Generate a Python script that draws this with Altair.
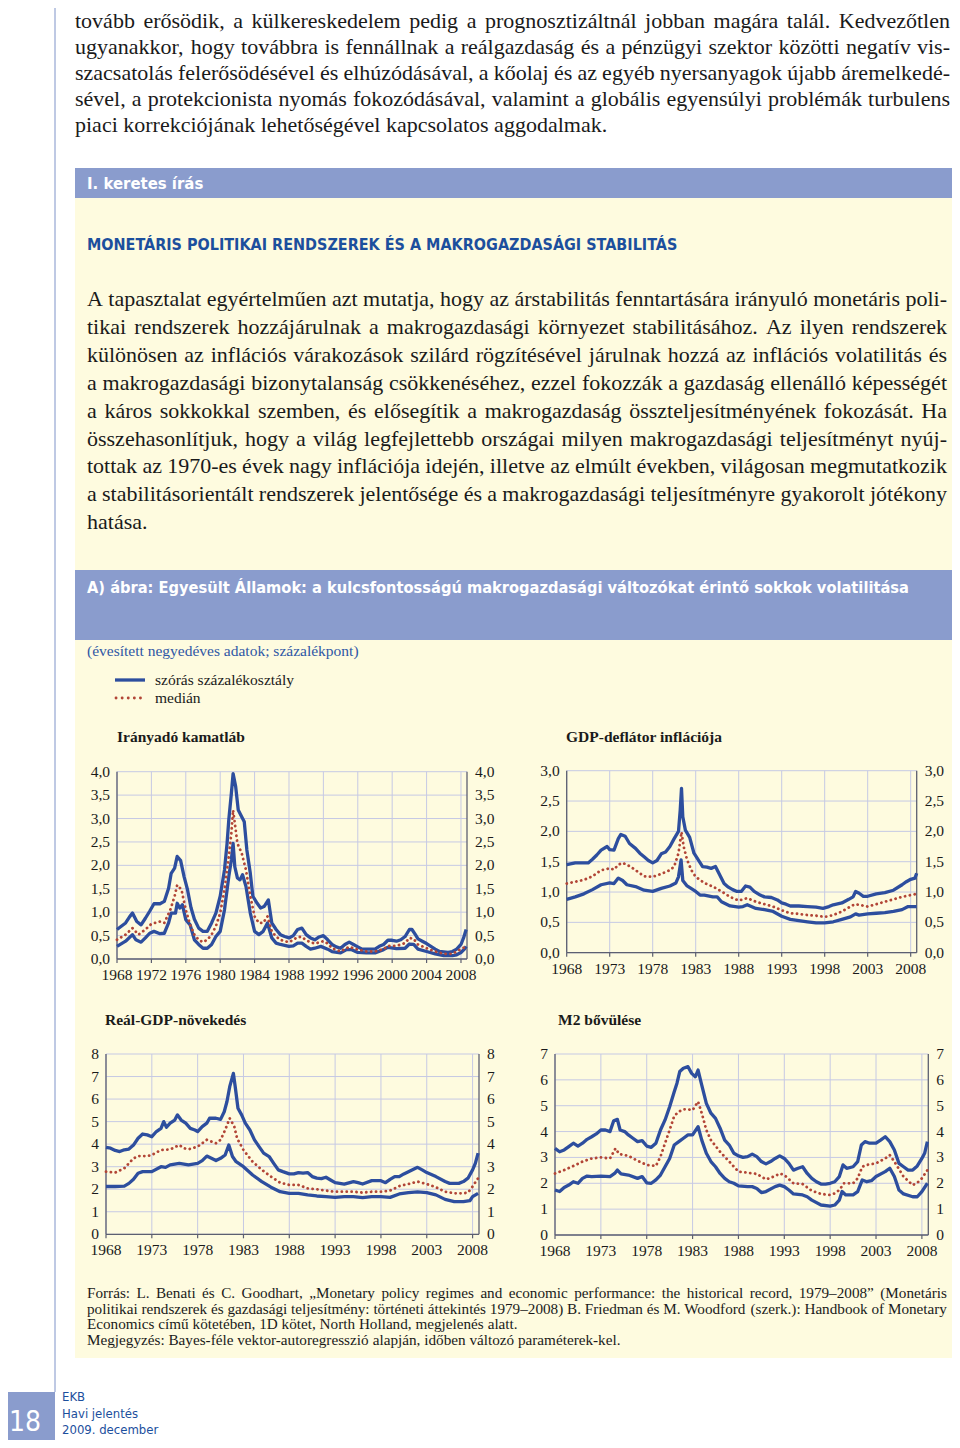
import unicodedata
import altair as alt
import pandas as pd

OFF = 8
W, H = 944, 1432


def cx(x):
    return x - OFF


def cy(y):
    return y - OFF


SERIF = "Liberation Serif, Times New Roman, serif"
NARROW = "Liberation Sans Narrow, DejaVu Sans Condensed, Roboto Condensed, Liberation Sans, sans-serif"
BAR = "#8A9CCD"
CREAM = "#FEFBDF"
HEAD = "#1C4F9D"
BLUE = "#2D4E9E"
RED = "#B24536"
GRID = "#C6C9E4"
AXIS = "#5C5F70"
INK = "#1A1A1A"

# ---------------- texts ----------------
TOP_LINES = [
    "tovább erősödik, a külkereskedelem pedig a prognosztizáltnál jobban magára talál. Kedvezőtlen",
    "ugyanakkor, hogy továbbra is fennállnak a reálgazdaság és a pénzügyi szektor közötti negatív vis-",
    "szacsatolás felerősödésével és elhúzódásával, a kőolaj és az egyéb nyersanyagok újabb áremelkedé-",
    "sével, a protekcionista nyomás fokozódásával, valamint a globális egyensúlyi problémák turbulens",
    "piaci korrekciójának lehetőségével kapcsolatos aggodalmak.",
]
BOX_TAG = "I. keretes írás"
BOX_TITLE = "MONETÁRIS POLITIKAI RENDSZEREK ÉS A MAKROGAZDASÁGI STABILITÁS"
BOX_LINES = [
    "A tapasztalat egyértelműen azt mutatja, hogy az árstabilitás fenntartására irányuló monetáris poli-",
    "tikai rendszerek hozzájárulnak a makrogazdasági környezet stabilitásához. Az ilyen rendszerek",
    "különösen az inflációs várakozások szilárd rögzítésével járulnak hozzá az inflációs volatilitás és",
    "a makrogazdasági bizonytalanság csökkenéséhez, ezzel fokozzák a gazdaság ellenálló képességét",
    "a káros sokkokkal szemben, és elősegítik a makrogazdaság összteljesítményének fokozását. Ha",
    "összehasonlítjuk, hogy a világ legfejlettebb országai milyen makrogazdasági teljesítményt nyúj-",
    "tottak az 1970-es évek nagy inflációja idején, illetve az elmúlt években, világosan megmutatkozik",
    "a stabilitásorientált rendszerek jelentősége és a makrogazdasági teljesítményre gyakorolt jótékony",
    "hatása.",
]
FIG_TITLE = "A) ábra: Egyesült Államok: a kulcsfontosságú makrogazdasági változókat érintő sokkok volatilitása"
SUBTITLE = ["(évesített negyedéves adatok; százalékpont)"]
LEGEND = ["szórás százalékosztály", "medián"]
TITLES = ["Irányadó kamatláb", "GDP-deflátor inflációja", "Reál-GDP-növekedés", "M2 bővülése"]
SRC_LINES = [
    "Forrás: L. Benati és C. Goodhart, „Monetary policy regimes and economic performance: the historical record, 1979–2008” (Monetáris",
    "politikai rendszerek és gazdasági teljesítmény: történeti áttekintés 1979–2008) B. Friedman és M. Woodford (szerk.): Handbook of Monetary",
    "Economics című kötetében, 1D kötet, North Holland, megjelenés alatt.",
    "Megjegyzés: Bayes-féle vektor-autoregresszió alapján, időben változó paraméterek-kel.",
]
FOOT_NUM = ["18"]
FOOT_LINES = ["EKB", "Havi jelentés", "2009. december"]

# ---------------- panel data (year, value) ----------------
P1_UP = [(1968.0,0.63),(1969.0,0.77),(1969.5,0.91),(1969.8,0.98),(1970.3,0.80),(1970.8,0.73),(1971.3,0.87),(1971.8,1.02),(1972.3,1.18),(1973.0,1.18),(1973.5,1.23),(1974.0,1.51),(1974.3,1.83),(1974.7,1.94),(1975.0,2.19),(1975.4,2.10),(1975.8,1.76),(1976.2,1.48),(1976.6,1.10),(1977.0,0.85),(1977.5,0.66),(1978.0,0.59),(1978.5,0.59),(1979.0,0.77),(1979.5,0.98),(1980.0,1.34),(1980.5,1.90),(1980.8,2.47),(1981.0,2.97),(1981.3,3.54),(1981.5,3.96),(1981.8,3.68),(1982.1,3.18),(1982.5,3.04),(1982.8,2.93),(1983.1,2.33),(1983.5,1.83),(1983.8,1.34),(1984.3,1.19),(1984.7,1.09),(1985.1,1.12),(1985.6,1.26),(1986.0,0.77),(1986.5,0.63),(1987.0,0.52),(1987.5,0.48),(1988.0,0.45),(1988.5,0.50),(1989.0,0.63),(1989.5,0.66),(1990.0,0.52),(1990.5,0.45),(1991.0,0.41),(1991.5,0.47),(1992.0,0.50),(1992.5,0.41),(1993.0,0.31),(1993.5,0.26),(1994.0,0.23),(1994.5,0.31),(1995.0,0.36),(1995.5,0.31),(1996.0,0.26),(1996.5,0.21),(1997.0,0.21),(1997.5,0.21),(1998.0,0.21),(1998.5,0.27),(1999.0,0.31),(1999.5,0.40),(2000.0,0.40),(2000.5,0.38),(2001.0,0.41),(2001.5,0.48),(2002.0,0.63),(2002.3,0.63),(2002.7,0.52),(2003.0,0.43),(2003.5,0.38),(2004.0,0.33),(2004.5,0.27),(2005.0,0.21),(2005.5,0.16),(2006.0,0.15),(2006.5,0.14),(2007.0,0.16),(2007.5,0.21),(2008.0,0.31),(2008.3,0.45),(2008.6,0.63)]
P1_MED = [(1968.0,0.41),(1969.0,0.52),(1969.8,0.66),(1970.5,0.52),(1971.3,0.63),(1972.0,0.75),(1973.0,0.80),(1973.5,0.77),(1974.2,1.05),(1974.7,1.34),(1975.0,1.58),(1975.5,1.48),(1976.0,1.05),(1976.5,0.73),(1977.0,0.52),(1977.5,0.41),(1978.0,0.36),(1978.5,0.41),(1979.0,0.52),(1979.5,0.70),(1980.0,0.98),(1980.5,1.48),(1981.0,2.19),(1981.3,2.69),(1981.5,3.18),(1981.8,2.76),(1982.0,2.47),(1982.5,2.26),(1983.0,1.90),(1983.5,1.34),(1984.0,0.91),(1984.5,0.77),(1985.0,0.77),(1985.5,0.91),(1986.0,0.59),(1986.5,0.48),(1987.0,0.41),(1987.5,0.38),(1988.0,0.36),(1988.5,0.41),(1989.0,0.47),(1989.5,0.47),(1990.0,0.40),(1990.5,0.36),(1991.0,0.33),(1992.0,0.38),(1992.5,0.33),(1993.0,0.23),(1994.0,0.16),(1995.0,0.26),(1996.0,0.20),(1997.0,0.16),(1998.0,0.16),(1999.0,0.21),(1999.5,0.28),(2000.5,0.28),(2001.5,0.34),(2002.0,0.45),(2002.5,0.43),(2003.0,0.31),(2004.0,0.23),(2005.0,0.16),(2006.0,0.11),(2007.0,0.11),(2007.5,0.16),(2008.0,0.21),(2008.6,0.27)]
P1_LO = [(1968.0,0.27),(1969.0,0.38),(1969.8,0.52),(1970.2,0.41),(1970.8,0.36),(1971.3,0.45),(1971.8,0.55),(1972.3,0.59),(1973.0,0.54),(1973.5,0.55),(1974.0,0.77),(1974.3,0.98),(1974.8,0.98),(1975.0,1.19),(1975.3,1.09),(1975.6,1.16),(1976.0,0.84),(1976.5,0.73),(1977.0,0.41),(1977.5,0.31),(1978.0,0.23),(1978.5,0.23),(1979.0,0.31),(1979.5,0.48),(1980.0,0.59),(1980.5,1.05),(1981.0,1.76),(1981.3,2.12),(1981.5,2.47),(1981.7,1.97),(1982.0,1.73),(1982.3,1.69),(1982.6,1.80),(1983.0,1.55),(1983.5,0.98),(1984.0,0.59),(1984.5,0.52),(1985.0,0.59),(1985.5,0.77),(1986.0,0.45),(1986.5,0.34),(1987.0,0.31),(1988.0,0.27),(1988.5,0.28),(1989.0,0.34),(1989.5,0.34),(1990.0,0.27),(1990.5,0.21),(1991.0,0.23),(1991.7,0.27),(1992.5,0.21),(1993.0,0.16),(1994.0,0.13),(1994.7,0.20),(1995.3,0.20),(1996.0,0.14),(1997.0,0.13),(1998.0,0.13),(1999.0,0.20),(1999.5,0.25),(2000.5,0.22),(2001.5,0.23),(2002.0,0.32),(2002.5,0.31),(2003.0,0.21),(2004.0,0.16),(2005.0,0.11),(2006.0,0.07),(2007.0,0.07),(2007.5,0.09),(2008.0,0.14),(2008.4,0.21),(2008.6,0.27)]

P2_UP = [(1968.0,1.45),(1969.0,1.48),(1970.0,1.48),(1970.5,1.48),(1971.0,1.54),(1971.5,1.61),(1972.0,1.69),(1972.7,1.75),(1973.0,1.70),(1973.5,1.69),(1974.0,1.88),(1974.3,1.95),(1974.8,1.92),(1975.3,1.80),(1976.0,1.72),(1976.5,1.64),(1977.0,1.58),(1977.5,1.52),(1978.0,1.48),(1978.5,1.52),(1979.0,1.63),(1979.5,1.66),(1980.0,1.75),(1980.5,1.88),(1981.0,2.00),(1981.2,2.35),(1981.35,2.71),(1981.5,2.24),(1981.8,2.02),(1982.3,1.90),(1982.8,1.64),(1983.3,1.53),(1983.8,1.42),(1984.3,1.41),(1984.8,1.39),(1985.3,1.42),(1985.8,1.28),(1986.3,1.14),(1986.8,1.08),(1987.3,1.04),(1987.8,1.01),(1988.3,1.01),(1988.8,1.10),(1989.3,1.08),(1989.8,1.01),(1990.5,0.95),(1991.0,0.92),(1991.8,0.91),(1992.5,0.87),(1993.0,0.82),(1993.5,0.80),(1994.0,0.77),(1995.0,0.77),(1996.0,0.76),(1997.0,0.75),(1997.8,0.73),(1998.5,0.76),(1999.0,0.79),(2000.0,0.82),(2000.8,0.88),(2001.3,0.92),(2001.6,1.01),(2002.0,0.98),(2002.5,0.93),(2003.0,0.93),(2004.0,0.97),(2005.0,0.99),(2006.0,1.03),(2007.0,1.12),(2007.5,1.17),(2008.0,1.21),(2008.5,1.23),(2008.7,1.31)]
P2_MED = [(1968.0,1.14),(1969.0,1.17),(1970.0,1.20),(1971.0,1.26),(1972.0,1.36),(1973.0,1.39),(1973.5,1.37),(1974.0,1.45),(1974.5,1.48),(1975.0,1.45),(1975.5,1.41),(1976.0,1.36),(1977.0,1.26),(1978.0,1.25),(1979.0,1.30),(1980.0,1.36),(1980.5,1.42),(1981.0,1.64),(1981.35,1.99),(1981.6,1.75),(1982.0,1.53),(1982.5,1.36),(1983.0,1.25),(1984.0,1.15),(1985.0,1.09),(1986.0,1.01),(1987.0,0.92),(1988.0,0.86),(1989.0,0.90),(1990.0,0.84),(1991.0,0.80),(1992.0,0.76),(1993.0,0.70),(1994.0,0.65),(1995.0,0.64),(1996.0,0.62),(1997.0,0.61),(1998.0,0.59),(1999.0,0.62),(2000.0,0.68),(2001.0,0.76),(2001.5,0.80),(2002.0,0.79),(2003.0,0.76),(2004.0,0.80),(2005.0,0.84),(2006.0,0.88),(2007.0,0.92),(2008.0,0.95),(2008.7,0.97)]
P2_LO = [(1968.0,0.88),(1969.0,0.92),(1970.0,0.97),(1971.0,1.04),(1972.0,1.12),(1973.0,1.15),(1973.5,1.14),(1974.0,1.23),(1974.5,1.19),(1975.0,1.12),(1976.0,1.09),(1977.0,1.03),(1978.0,1.01),(1979.0,1.06),(1980.0,1.10),(1980.7,1.15),(1981.0,1.25),(1981.3,1.53),(1981.5,1.19),(1982.0,1.10),(1983.0,1.01),(1983.5,0.95),(1984.0,0.95),(1985.0,0.92),(1985.5,0.92),(1986.0,0.84),(1987.0,0.77),(1988.0,0.75),(1988.5,0.76),(1989.0,0.79),(1990.0,0.73),(1991.0,0.71),(1992.0,0.68),(1993.0,0.60),(1994.0,0.55),(1995.0,0.53),(1996.0,0.51),(1997.0,0.49),(1998.0,0.49),(1999.0,0.51),(2000.0,0.55),(2001.0,0.59),(2001.6,0.64),(2002.0,0.62),(2003.0,0.64),(2004.0,0.65),(2005.0,0.66),(2006.0,0.68),(2007.0,0.71),(2007.7,0.76),(2008.7,0.76)]

P3_UP = [(1968.0,3.86),(1968.5,3.82),(1969.0,3.72),(1969.5,3.67),(1970.0,3.75),(1970.5,3.78),(1971.0,3.96),(1971.5,4.26),(1972.0,4.45),(1972.5,4.41),(1973.0,4.33),(1973.5,4.56),(1974.0,4.70),(1974.3,5.00),(1974.6,4.75),(1975.0,4.93),(1975.5,5.07),(1975.8,5.30),(1976.2,5.07),(1976.7,4.93),(1977.2,4.70),(1977.7,4.63),(1978.0,4.56),(1978.5,4.78),(1979.0,4.93),(1979.3,5.15),(1980.0,5.15),(1980.5,5.10),(1980.9,5.44),(1981.2,5.89),(1981.5,6.55),(1981.9,7.14),(1982.1,6.55),(1982.4,5.59),(1982.8,5.30),(1983.2,4.93),(1983.7,4.63),(1984.2,4.19),(1984.7,3.89),(1985.2,3.60),(1985.8,3.45),(1986.3,3.15),(1986.8,2.86),(1987.3,2.78),(1988.0,2.68),(1988.5,2.68),(1989.0,2.74),(1989.5,2.71),(1990.0,2.74),(1990.5,2.56),(1991.0,2.49),(1991.5,2.47),(1992.0,2.53),(1992.5,2.41),(1993.0,2.29),(1994.0,2.23),(1995.0,2.34),(1995.5,2.29),(1996.0,2.23),(1997.0,2.38),(1998.0,2.38),(1998.5,2.29),(1999.0,2.44),(1999.5,2.56),(2000.0,2.56),(2000.5,2.68),(2001.0,2.78),(2002.0,2.97),(2002.5,2.86),(2003.0,2.74),(2004.0,2.56),(2005.0,2.34),(2005.5,2.26),(2006.0,2.26),(2006.5,2.26),(2007.0,2.34),(2007.5,2.49),(2008.0,2.86),(2008.3,3.15),(2008.6,3.60)]
P3_MED = [(1968.0,2.78),(1969.0,2.74),(1970.0,2.93),(1971.0,3.37),(1971.5,3.47),(1972.5,3.47),(1973.0,3.52),(1974.0,3.74),(1975.0,3.77),(1976.0,3.96),(1976.5,3.82),(1977.0,3.77),(1978.0,3.89),(1979.0,4.19),(1980.0,4.04),(1980.5,4.19),(1981.0,4.63),(1981.5,5.15),(1982.0,4.78),(1982.3,4.26),(1983.0,3.74),(1984.0,3.22),(1985.0,2.86),(1986.0,2.56),(1987.0,2.29),(1988.0,2.19),(1989.0,2.19),(1990.0,2.04),(1991.0,2.00),(1992.0,1.94),(1993.0,1.89),(1994.0,1.89),(1995.0,1.89),(1996.0,1.85),(1997.0,1.89),(1998.0,1.89),(1999.0,1.94),(2000.0,2.14),(2001.0,2.23),(2002.0,2.34),(2003.0,2.23),(2004.0,2.09),(2005.0,1.89),(2006.0,1.82),(2007.0,1.82),(2007.5,1.85),(2008.0,2.12),(2008.6,2.49)]
P3_LO = [(1968.0,2.12),(1969.0,2.12),(1970.0,2.14),(1970.5,2.26),(1971.0,2.44),(1971.5,2.71),(1972.0,2.78),(1973.0,2.78),(1974.0,3.00),(1974.5,2.97),(1975.0,3.08),(1976.0,3.15),(1977.0,3.08),(1978.0,3.15),(1978.5,3.27),(1979.0,3.47),(1979.5,3.37),(1980.0,3.27),(1980.5,3.37),(1981.0,3.52),(1981.4,3.96),(1981.8,3.45),(1982.2,3.22),(1983.0,3.00),(1984.0,2.63),(1985.0,2.34),(1986.0,2.09),(1987.0,1.89),(1988.0,1.82),(1989.0,1.82),(1990.0,1.75),(1991.0,1.70),(1992.0,1.67),(1993.0,1.64),(1994.0,1.67),(1995.0,1.67),(1996.0,1.63),(1997.0,1.67),(1998.0,1.67),(1999.0,1.64),(2000.0,1.79),(2001.0,1.85),(2002.0,1.88),(2003.0,1.85),(2004.0,1.75),(2005.0,1.55),(2006.0,1.45),(2007.0,1.45),(2007.7,1.49),(2008.0,1.67),(2008.6,1.82)]

P4_UP = [(1968.0,3.35),(1968.5,3.22),(1969.0,3.29),(1969.5,3.42),(1970.0,3.55),(1970.5,3.44),(1971.0,3.55),(1971.5,3.70),(1972.0,3.80),(1972.5,3.91),(1973.0,4.06),(1973.5,4.06),(1974.0,4.00),(1974.4,4.42),(1974.8,4.47),(1975.1,4.06),(1975.6,4.00),(1976.0,3.87),(1976.5,3.74),(1977.0,3.61),(1977.5,3.65),(1978.0,3.44),(1978.5,3.39),(1979.0,3.55),(1979.5,4.06),(1980.0,4.45),(1980.5,4.96),(1981.0,5.54),(1981.3,5.87),(1981.6,6.32),(1982.0,6.45),(1982.5,6.51),(1982.9,6.25),(1983.3,6.12),(1983.6,6.38),(1984.0,5.80),(1984.5,5.09),(1985.0,4.71),(1985.5,4.51),(1986.0,4.13),(1986.5,3.67),(1987.0,3.48),(1987.5,3.16),(1988.0,3.06),(1988.5,3.00),(1989.0,3.03),(1989.5,3.13),(1990.0,3.03),(1990.5,2.84),(1991.0,2.75),(1991.5,2.84),(1992.0,2.96),(1992.5,3.06),(1993.0,2.96),(1993.5,2.77),(1994.0,2.51),(1994.5,2.58),(1995.0,2.64),(1995.5,2.38),(1996.0,2.19),(1996.5,2.06),(1997.0,1.97),(1997.5,1.97),(1998.0,2.00),(1998.5,2.06),(1999.0,2.26),(1999.4,2.71),(1999.8,2.58),(2000.5,2.64),(2001.0,2.84),(2001.4,3.48),(2001.8,3.61),(2002.3,3.55),(2003.0,3.55),(2003.5,3.67),(2004.0,3.80),(2004.5,3.61),(2005.0,3.29),(2005.5,2.77),(2006.0,2.64),(2006.5,2.51),(2007.0,2.51),(2007.5,2.67),(2008.0,2.96),(2008.3,3.16),(2008.6,3.61)]
P4_MED = [(1968.0,2.38),(1969.0,2.51),(1970.0,2.67),(1971.0,2.84),(1972.0,2.96),(1973.0,3.00),(1974.0,2.96),(1974.6,3.35),(1975.0,3.13),(1976.0,3.06),(1977.0,2.87),(1978.0,2.71),(1979.0,2.67),(1979.5,3.03),(1980.0,3.55),(1980.5,4.06),(1981.0,4.60),(1981.5,4.77),(1982.0,4.86),(1982.5,4.86),(1983.0,4.83),(1983.6,5.16),(1984.0,4.71),(1984.5,4.06),(1985.0,3.67),(1986.0,3.22),(1987.0,2.84),(1988.0,2.45),(1989.0,2.41),(1990.0,2.36),(1991.0,2.15),(1992.0,2.28),(1992.5,2.38),(1993.0,2.32),(1994.0,2.00),(1995.0,1.97),(1996.0,1.71),(1997.0,1.59),(1998.0,1.55),(1998.5,1.61),(1999.0,1.74),(1999.5,2.00),(2000.5,2.00),(2001.0,2.19),(2001.5,2.64),(2002.0,2.71),(2003.0,2.77),(2004.0,2.96),(2004.5,3.09),(2005.0,2.84),(2006.0,2.26),(2007.0,1.93),(2007.5,2.02),(2008.0,2.19),(2008.6,2.51)]
P4_LO = [(1968.0,1.74),(1968.5,1.68),(1969.0,1.84),(1969.5,1.93),(1970.0,2.06),(1970.5,2.00),(1971.0,2.19),(1971.5,2.28),(1972.0,2.26),(1973.0,2.28),(1974.0,2.26),(1974.5,2.38),(1974.8,2.51),(1975.2,2.36),(1976.0,2.32),(1977.0,2.19),(1977.5,2.26),(1978.0,2.02),(1978.5,2.00),(1979.0,2.13),(1979.5,2.32),(1980.0,2.64),(1980.5,2.96),(1981.0,3.48),(1981.5,3.61),(1982.0,3.74),(1982.5,3.87),(1983.0,3.87),(1983.6,4.19),(1984.0,3.67),(1984.5,3.16),(1985.0,2.84),(1985.5,2.64),(1986.0,2.38),(1986.5,2.19),(1987.0,2.06),(1987.5,2.00),(1988.0,1.90),(1989.0,1.87),(1989.5,1.87),(1990.0,1.80),(1990.5,1.64),(1991.0,1.68),(1992.0,1.87),(1992.5,1.93),(1993.0,1.87),(1993.5,1.74),(1994.0,1.59),(1995.0,1.55),(1995.5,1.48),(1996.0,1.35),(1997.0,1.16),(1998.0,1.12),(1998.5,1.16),(1999.0,1.35),(1999.3,1.68),(1999.7,1.55),(2000.5,1.55),(2001.0,1.68),(2001.5,2.13),(2002.0,2.06),(2002.5,2.10),(2003.0,2.26),(2004.0,2.45),(2004.5,2.58),(2005.0,2.26),(2005.5,1.74),(2006.0,1.59),(2007.0,1.48),(2007.5,1.48),(2008.0,1.68),(2008.6,2.00)]

P1_YT = [0, 0.5, 1, 1.5, 2, 2.5, 3, 3.5, 4]
P1_YL = ["0,0", "0,5", "1,0", "1,5", "2,0", "2,5", "3,0", "3,5", "4,0"]
P2_YT = [0, 0.5, 1, 1.5, 2, 2.5, 3]
P2_YL = ["0,0", "0,5", "1,0", "1,5", "2,0", "2,5", "3,0"]
P3_YT = [0, 1, 2, 3, 4, 5, 6, 7, 8]
P3_YL = ["0", "1", "2", "3", "4", "5", "6", "7", "8"]
P4_YT = [0, 1, 2, 3, 4, 5, 6, 7]
P4_YL = ["0", "1", "2", "3", "4", "5", "6", "7"]
X4 = [1968, 1972, 1976, 1980, 1984, 1988, 1992, 1996, 2000, 2004, 2008]
X5 = [1968, 1973, 1978, 1983, 1988, 1993, 1998, 2003, 2008]
XMIN, XMAX = 1968, 2008.7

# ---------------- Times metrics for justification ----------------
TW = {' ': 250, '!': 333, '(': 333, ')': 333, ',': 250, '-': 333, '.': 250, '/': 278,
      ':': 278, ';': 278, '–': 500, '„': 444, '”': 444,
      'A': 722, 'B': 667, 'C': 667, 'D': 722, 'E': 611, 'F': 556, 'G': 722, 'H': 722, 'I': 333,
      'J': 389, 'K': 722, 'L': 611, 'M': 889, 'N': 722, 'O': 722, 'P': 556, 'Q': 722, 'R': 667,
      'S': 556, 'T': 611, 'U': 722, 'V': 722, 'W': 944, 'X': 722, 'Y': 722, 'Z': 611,
      'a': 444, 'b': 500, 'c': 444, 'd': 500, 'e': 444, 'f': 333, 'g': 500, 'h': 500, 'i': 278,
      'j': 278, 'k': 500, 'l': 278, 'm': 778, 'n': 500, 'o': 500, 'p': 500, 'q': 500, 'r': 333,
      's': 389, 't': 278, 'u': 500, 'v': 500, 'w': 722, 'x': 500, 'y': 500, 'z': 444}
for _d in "0123456789":
    TW[_d] = 500


def tw(word):
    tot = 0
    for ch in word:
        b = unicodedata.normalize("NFD", ch)[0]
        tot += TW.get(b, 500)
    return tot / 1000.0


ONE = alt.Data(values=[{"k": 0}])


def rect(x1, x2, y1, y2, color):
    return alt.Chart(ONE).mark_rect(color=color).encode(
        x=alt.value(cx(x1)), x2=alt.value(cx(x2)), y=alt.value(cy(y1)), y2=alt.value(cy(y2)))


def prule(x1, x2, y1, y2, color, w, **kw):
    return alt.Chart(ONE).mark_rule(color=color, strokeWidth=w, **kw).encode(
        x=alt.value(cx(x1)), x2=alt.value(cx(x2)), y=alt.value(cy(y1)), y2=alt.value(cy(y2)))


def text_block(lines, x0, y0, dy, size, font, color, weight="normal", width=None, ragged=()):
    if width is None:
        df = pd.DataFrame({"t": lines, "line": list(range(len(lines)))})
        xenc = alt.value(cx(x0))
    else:
        rows = []
        target = width / size
        for i, line in enumerate(lines):
            words = line.split(" ")
            ws = [tw(w) for w in words]
            if i in ragged or len(words) < 2:
                gap = 0.25
            else:
                gap = max(0.08, (target - sum(ws)) / (len(words) - 1))
            pos = 0.0
            for w_, e in zip(words, ws):
                rows.append({"t": w_, "line": i, "pos": pos})
                pos += e + gap
        df = pd.DataFrame(rows)
        xenc = alt.X("pos:Q", scale=alt.Scale(domain=[0, 1], range=[cx(x0), cx(x0) + size],
                                              zero=False, nice=False), axis=None)
    yenc = alt.Y("line:Q", scale=alt.Scale(domain=[0, 1], range=[cy(y0), cy(y0) + dy],
                                           zero=False, nice=False), axis=None)
    return alt.Chart(df).mark_text(align="left", baseline="alphabetic", font=font, fontSize=size,
                                   color=color, fontWeight=weight).encode(x=xenc, y=yenc, text="t:N")


def panel(up, med, lo, left, right, top, bottom, ymax, yt, yl, xt):
    xs = alt.Scale(domain=[XMIN, XMAX], range=[cx(left), cx(right)], zero=False, nice=False)
    ys = alt.Scale(domain=[0, ymax], range=[cy(bottom), cy(top)], zero=False, nice=False)
    ydf = pd.DataFrame({"v": yt, "lab": yl})
    xdf = pd.DataFrame({"yr": xt, "lab": [str(t) for t in xt]})
    band = pd.DataFrame([{"yr": a, "val": b, "s": "felső"} for a, b in up] +
                        [{"yr": a, "val": b, "s": "alsó"} for a, b in lo])
    mdf = pd.DataFrame([{"yr": a, "val": b} for a, b in med])

    hgrid = alt.Chart(ydf).mark_rule(color=GRID, strokeWidth=1).encode(
        x=alt.X(datum=XMIN, scale=xs, axis=None), x2=alt.X2(datum=XMAX),
        y=alt.Y("v:Q", scale=ys, axis=None))
    vgrid = alt.Chart(xdf).mark_rule(color=GRID, strokeWidth=1).encode(
        x=alt.X("yr:Q", scale=xs, axis=None),
        y=alt.Y(datum=0, scale=ys, axis=None), y2=alt.Y2(datum=ymax))
    lax = alt.Chart(ONE).mark_rule(color=AXIS, strokeWidth=1.3).encode(
        x=alt.X(datum=XMIN, scale=xs, axis=None),
        y=alt.Y(datum=0, scale=ys, axis=None), y2=alt.Y2(datum=ymax))
    rax = alt.Chart(ONE).mark_rule(color=AXIS, strokeWidth=1.3).encode(
        x=alt.X(datum=XMAX, scale=xs, axis=None),
        y=alt.Y(datum=0, scale=ys, axis=None), y2=alt.Y2(datum=ymax))
    bax = alt.Chart(ONE).mark_rule(color=AXIS, strokeWidth=1.3).encode(
        x=alt.X(datum=XMIN, scale=xs, axis=None), x2=alt.X2(datum=XMAX),
        y=alt.Y(datum=0, scale=ys, axis=None))
    ticks = alt.Chart(xdf).mark_rule(color=AXIS, strokeWidth=1.2).encode(
        x=alt.X("yr:Q", scale=xs, axis=None),
        y=alt.Y(datum=0, scale=ys, axis=None), y2=alt.value(cy(bottom) + 4))
    bands = alt.Chart(band).mark_line(color=BLUE, strokeWidth=3.3, strokeJoin="round").encode(
        x=alt.X("yr:Q", scale=xs, axis=None), y=alt.Y("val:Q", scale=ys, axis=None),
        detail="s:N")
    mline = alt.Chart(mdf).mark_line(color=RED, strokeWidth=2.8, strokeDash=[0.1, 4.8],
                                     strokeCap="round").encode(
        x=alt.X("yr:Q", scale=xs, axis=None), y=alt.Y("val:Q", scale=ys, axis=None))
    tstyle = dict(font=SERIF, fontSize=15.5, color=INK, baseline="middle")
    llab = alt.Chart(ydf).mark_text(align="right", **tstyle).encode(
        x=alt.value(cx(left) - 7), y=alt.Y("v:Q", scale=ys, axis=None), text="lab:N")
    rlab = alt.Chart(ydf).mark_text(align="left", **tstyle).encode(
        x=alt.value(cx(right) + 8), y=alt.Y("v:Q", scale=ys, axis=None), text="lab:N")
    blab = alt.Chart(xdf).mark_text(align="center", **tstyle).encode(
        x=alt.X("yr:Q", scale=xs, axis=None), y=alt.value(cy(bottom) + 16), text="lab:N")
    return alt.layer(hgrid, vgrid, lax, rax, bax, ticks, bands, mline, llab, rlab, blab)


layers = [
    # page decorations
    rect(75, 960, 198, 1358, CREAM),
    rect(75, 960, 168, 198, BAR),
    rect(75, 960, 570, 640, BAR),
    prule(55, 55, 0, 1392, "#7E93C8", 1),
    rect(0, 55, 1392, 1448, BAR),
    # texts
    text_block(TOP_LINES, 75, 28, 26, 22, SERIF, INK, width=875, ragged=(4,)),
    text_block([BOX_TAG], 87, 189, 20, 16.6, NARROW, "white", weight="bold"),
    text_block([BOX_TITLE], 87, 250, 20, 16, NARROW, HEAD, weight="bold"),
    text_block(BOX_LINES, 87, 306, 27.9, 22, SERIF, INK, width=860, ragged=(8,)),
    text_block([FIG_TITLE], 87, 593, 20, 16.3, NARROW, "white", weight="bold"),
    text_block(SUBTITLE, 87, 656, 20, 15.5, SERIF, "#2F57A5"),
    text_block(LEGEND, 155, 685, 18, 15.5, SERIF, INK),
    prule(115, 145, 680, 680, BLUE, 3.3),
    prule(116, 145, 698, 698, RED, 2.8, strokeDash=[0.1, 6], strokeCap="round"),
    text_block([TITLES[0]], 117, 742, 20, 15.5, SERIF, INK, weight="bold"),
    text_block([TITLES[1]], 566, 742, 20, 15.5, SERIF, INK, weight="bold"),
    text_block([TITLES[2]], 105, 1025, 20, 15.5, SERIF, INK, weight="bold"),
    text_block([TITLES[3]], 558, 1025, 20, 15.5, SERIF, INK, weight="bold"),
    text_block(SRC_LINES, 87, 1298, 15.67, 15.2, SERIF, INK, width=860, ragged=(2, 3)),
    text_block(FOOT_NUM, 9, 1431, 20, 28, NARROW, "white"),
    text_block(FOOT_LINES, 62, 1401, 16.5, 13, NARROW, HEAD),
    # panels
    panel(P1_UP, P1_MED, P1_LO, 117, 467, 771.7, 959, 4, P1_YT, P1_YL, X4),
    panel(P2_UP, P2_MED, P2_LO, 566.7, 916.7, 770.7, 952.7, 3, P2_YT, P2_YL, X5),
    panel(P3_UP, P3_MED, P3_LO, 106, 479, 1054, 1234.3, 8, P3_YT, P3_YL, X5),
    panel(P4_UP, P4_MED, P4_LO, 555, 928.3, 1054, 1235, 7, P4_YT, P4_YL, X5),
]

chart = alt.layer(*layers).resolve_scale(x="independent", y="independent").properties(
    width=W, height=H, padding=0, background="white",
    autosize=alt.AutoSizeParams(type="none"),
).configure_view(stroke=None)

chart.save("out.html", embed_options={"renderer": "svg", "actions": False})
